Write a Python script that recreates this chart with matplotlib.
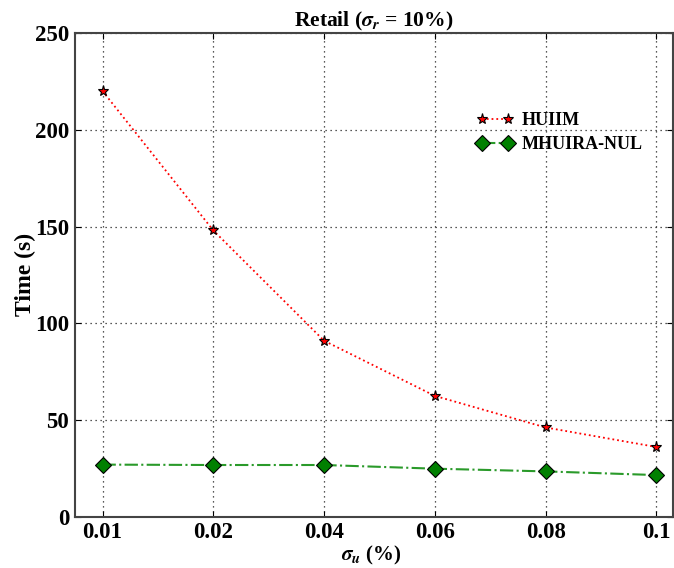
import matplotlib
matplotlib.use('Agg')
import matplotlib.pyplot as plt
import numpy as np

plt.rcParams['font.family'] = ['Liberation Serif', 'DejaVu Serif']
plt.rcParams['font.weight'] = 'bold'
plt.rcParams['mathtext.fontset'] = 'stix'

# sigma_u values (categorical, equally spaced on the axis)
xLabels = ['0.01', '0.02', '0.04', '0.06', '0.08', '0.1']
huiim = [220, 148, 91, 62.5, 46.2, 36.1]
mhuiraNul = [27.0, 26.8, 26.8, 24.9, 23.5, 21.6]

fig = plt.figure(figsize=(6.74, 5.68), dpi=100)
ax = fig.add_axes([0.111, 0.09, 0.8875, 0.852])

xs = np.arange(len(xLabels))
ax.plot(xs, huiim, linestyle=':', color='r', marker='*', markersize=8,
        markerfacecolor='r', markeredgecolor='k', markeredgewidth=0.8, linewidth=1.3,
        label='HUIIM')
ax.plot(xs, mhuiraNul, linestyle='-.', color='#2a9a2a', marker='D', markersize=8,
        markerfacecolor='g', markeredgecolor='k', markeredgewidth=0.8, linewidth=1.5,
        label='MHUIRA-NUL')

ax.set_xlim(-0.25, 5.15)
ax.set_ylim(0, 250)
ax.set_xticks(xs)
ax.set_xticklabels(xLabels)
ax.set_yticks(np.arange(0, 251, 50))

ax.grid(True, linestyle=(0, (1, 3)), color='#222222', linewidth=0.9)
ax.tick_params(direction='in', top=True, right=True, labelsize=16.5, length=4, pad=4)
for lab in ax.get_xticklabels() + ax.get_yticklabels():
    lab.set_fontweight('bold')
for sp in ax.spines.values():
    sp.set_color('#444444')
    sp.set_linewidth(1.5)

ax.set_xlabel(r'$\sigma_u$ (%)', fontsize=15, fontweight='bold')
ax.xaxis.set_label_coords(0.495, -0.056)
ax.set_ylabel('Time (s)', fontsize=17, fontweight='bold', labelpad=-1)
ax.set_title(r'Retail ($\sigma_r$ = 10%)', fontsize=15.5, fontweight='bold', pad=5)

leg = ax.legend(loc='upper left', bbox_to_anchor=(0.645, 0.87), frameon=False,
                numpoints=2, prop={'weight': 'bold', 'size': 13}, handlelength=2.0,
                handletextpad=0.5, labelspacing=0.4)

fig.savefig('out.png', dpi=100)
